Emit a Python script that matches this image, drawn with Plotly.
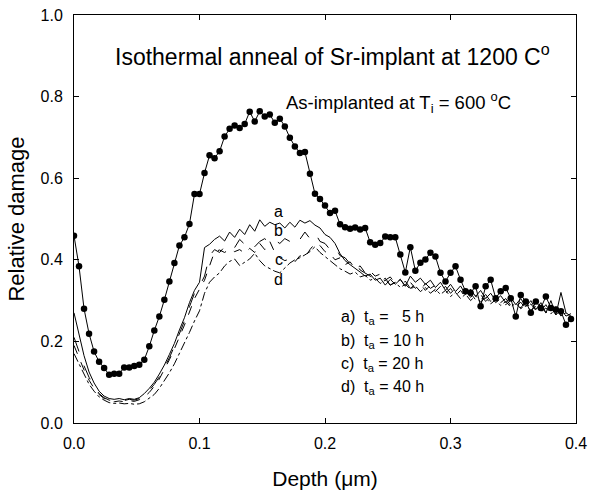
import plotly.graph_objects as go

FONT = "Liberation Sans, Arial, sans-serif"

# As-implanted profile (filled circles), depth step 0.004 um
depth_dots = [round(0.004 * i, 3) for i in range(100)]
damage_as_implanted = [
    0.459, 0.384, 0.280, 0.219, 0.175, 0.150, 0.135, 0.118, 0.121, 0.121,
    0.136, 0.136, 0.140, 0.143, 0.155, 0.188, 0.227, 0.261, 0.302, 0.347,
    0.392, 0.435, 0.455, 0.488, 0.561, 0.561, 0.613, 0.656, 0.649, 0.666,
    0.702, 0.721, 0.729, 0.723, 0.733, 0.763, 0.739, 0.764, 0.751, 0.756,
    0.736, 0.746, 0.727, 0.699, 0.678, 0.662, 0.664, 0.611, 0.562, 0.549,
    0.533, 0.515, 0.520, 0.487, 0.480, 0.476, 0.479, 0.474, 0.478, 0.443,
    0.437, 0.441, 0.457, 0.455, 0.455, 0.413, 0.369, 0.431, 0.373, 0.393,
    0.401, 0.417, 0.408, 0.368, 0.347, 0.368, 0.384, 0.351, 0.323, 0.319,
    0.335, 0.286, 0.335, 0.351, 0.306, 0.323, 0.331, 0.306, 0.261, 0.314,
    0.298, 0.270, 0.298, 0.282, 0.310, 0.282, 0.278, 0.274, 0.241, 0.255,
]

depth_lines = [round(0.004 * i, 3) for i in range(100)]
damage_a = [
    0.270, 0.215, 0.165, 0.125, 0.098, 0.078, 0.066, 0.060, 0.058, 0.060,
    0.057, 0.060, 0.058, 0.062, 0.072, 0.085, 0.100, 0.120, 0.142, 0.168,
    0.195, 0.228, 0.258, 0.295, 0.325, 0.345, 0.430, 0.438, 0.450, 0.458,
    0.446, 0.468, 0.455, 0.475, 0.462, 0.486, 0.470, 0.498, 0.482, 0.492,
    0.486, 0.490, 0.478, 0.492, 0.480, 0.497, 0.490, 0.496, 0.485, 0.478,
    0.462, 0.455, 0.440, 0.415, 0.398, 0.388, 0.380, 0.370, 0.360, 0.365,
    0.350, 0.355, 0.338, 0.352, 0.340, 0.352, 0.335, 0.360, 0.345, 0.355,
    0.340, 0.350, 0.332, 0.345, 0.325, 0.340, 0.322, 0.336, 0.315, 0.328,
    0.310, 0.325, 0.305, 0.318, 0.300, 0.312, 0.295, 0.308, 0.290, 0.305,
    0.285, 0.300, 0.278, 0.295, 0.270, 0.300, 0.265, 0.320, 0.270, 0.262,
]
damage_b = [
    0.210, 0.175, 0.140, 0.112, 0.090, 0.072, 0.062, 0.056, 0.054, 0.056,
    0.055, 0.058, 0.056, 0.060, 0.068, 0.080, 0.095, 0.113, 0.135, 0.160,
    0.188, 0.218, 0.250, 0.285, 0.318, 0.335, 0.360, 0.410, 0.425, 0.418,
    0.432, 0.440, 0.430, 0.450, 0.438, 0.446, 0.432, 0.445, 0.452, 0.440,
    0.448, 0.440, 0.452, 0.445, 0.460, 0.450, 0.468, 0.452, 0.466, 0.445,
    0.440, 0.425, 0.432, 0.410, 0.405, 0.390, 0.395, 0.375, 0.368, 0.360,
    0.352, 0.345, 0.355, 0.338, 0.345, 0.332, 0.348, 0.330, 0.340, 0.325,
    0.342, 0.330, 0.338, 0.322, 0.335, 0.318, 0.330, 0.312, 0.325, 0.308,
    0.320, 0.302, 0.315, 0.298, 0.312, 0.295, 0.305, 0.288, 0.300, 0.282,
    0.298, 0.280, 0.292, 0.275, 0.290, 0.268, 0.285, 0.262, 0.278, 0.255,
]
damage_c = [
    0.190, 0.160, 0.130, 0.105, 0.085, 0.070, 0.060, 0.055, 0.052, 0.054,
    0.052, 0.055, 0.053, 0.057, 0.064, 0.075, 0.090, 0.108, 0.130, 0.155,
    0.182, 0.210, 0.240, 0.272, 0.305, 0.328, 0.350, 0.385, 0.420, 0.424,
    0.418, 0.426, 0.420, 0.425, 0.416, 0.428, 0.418, 0.440, 0.425, 0.445,
    0.418, 0.405, 0.398, 0.402, 0.395, 0.410, 0.405, 0.425, 0.440, 0.435,
    0.420, 0.415, 0.400, 0.405, 0.388, 0.395, 0.378, 0.385, 0.368, 0.372,
    0.360, 0.365, 0.350, 0.358, 0.342, 0.352, 0.335, 0.345, 0.330, 0.340,
    0.325, 0.338, 0.322, 0.335, 0.318, 0.330, 0.312, 0.325, 0.308, 0.318,
    0.302, 0.315, 0.298, 0.310, 0.295, 0.305, 0.290, 0.300, 0.285, 0.296,
    0.280, 0.292, 0.276, 0.288, 0.270, 0.282, 0.265, 0.278, 0.262, 0.268,
]
damage_d = [
    0.170, 0.145, 0.118, 0.095, 0.078, 0.064, 0.056, 0.050, 0.048, 0.049,
    0.047, 0.048, 0.046, 0.047, 0.052, 0.060, 0.070, 0.085, 0.103, 0.123,
    0.145, 0.170, 0.195, 0.222, 0.250, 0.275, 0.318, 0.345, 0.358, 0.368,
    0.385, 0.396, 0.402, 0.386, 0.394, 0.402, 0.416, 0.398, 0.385, 0.378,
    0.372, 0.368, 0.380, 0.392, 0.400, 0.405, 0.412, 0.420, 0.432, 0.418,
    0.408, 0.398, 0.388, 0.378, 0.372, 0.365, 0.370, 0.358, 0.362, 0.350,
    0.355, 0.342, 0.350, 0.338, 0.345, 0.332, 0.340, 0.328, 0.336, 0.322,
    0.332, 0.318, 0.328, 0.315, 0.325, 0.310, 0.320, 0.305, 0.316, 0.300,
    0.312, 0.296, 0.308, 0.292, 0.302, 0.288, 0.298, 0.284, 0.294, 0.280,
    0.290, 0.276, 0.286, 0.272, 0.282, 0.268, 0.278, 0.264, 0.270, 0.258,
]

x_ticks = [0.0, 0.1, 0.2, 0.3, 0.4]
y_ticks = [0.0, 0.2, 0.4, 0.6, 0.8, 1.0]

curve_labels = ["a", "b", "c", "d"]
curve_label_y = [0.519, 0.472, 0.400, 0.351]
legend_texts = [
    "a)  t<sub>a</sub> = \u00a0\u00a05 h",
    "b)  t<sub>a</sub> = 10 h",
    "c)  t<sub>a</sub> = 20 h",
    "d)  t<sub>a</sub> = 40 h",
]
legend_y = [0.258, 0.200, 0.143, 0.087]

fig = go.Figure()
for ys, dash in [(damage_a, "solid"), (damage_b, "longdash"),
                 (damage_c, "dash"), (damage_d, "dashdot")]:
    fig.add_trace(go.Scatter(x=depth_lines, y=ys, mode="lines",
                             line=dict(color="black", width=1, dash=dash),
                             showlegend=False))
fig.add_trace(go.Scatter(x=depth_dots, y=damage_as_implanted, mode="lines+markers",
                         line=dict(color="black", width=1),
                         marker=dict(color="black", size=6.5),
                         showlegend=False))

ann = []
ann.append(dict(x=0.2056, y=0.903, xref="x", yref="y", showarrow=False,
                text="Isothermal anneal of Sr-implant at 1200 C<sup>o</sup>",
                font=dict(size=23, family=FONT, color="black"), xanchor="center", yanchor="middle"))
ann.append(dict(x=0.167, y=0.785, xref="x", yref="y", showarrow=False,
                text="As-implanted at T<sub>i</sub> = 600 <sup>o</sup>C",
                font=dict(size=18.5, family=FONT, color="black"), xanchor="left", yanchor="middle"))
for lab, yy in zip(curve_labels, curve_label_y):
    ann.append(dict(x=0.163, y=yy, xref="x", yref="y", showarrow=False, text=lab,
                    font=dict(size=16, family=FONT, color="black"), xanchor="center", yanchor="middle"))
for t, yy in zip(legend_texts, legend_y):
    ann.append(dict(x=0.211, y=yy, xref="x", yref="y", showarrow=False, text=t,
                    font=dict(size=16, family=FONT, color="black"), xanchor="left", yanchor="middle"))

axis_common = dict(showline=True, linecolor="black", linewidth=1, mirror="ticks",
                   ticks="inside", ticklen=5, tickcolor="black", showgrid=False,
                   zeroline=False, automargin=False,
                   tickfont=dict(size=16, family=FONT, color="black"))

fig.update_layout(
    width=589, height=498,
    margin=dict(l=74, r=13, t=15, b=75),
    paper_bgcolor="white", plot_bgcolor="white",
    annotations=ann,
    xaxis=dict(range=[0, 0.4], tickvals=x_ticks, ticktext=[f"{v:.1f}" for v in x_ticks],
               title=dict(text="Depth (\u03bcm)", font=dict(size=21, family=FONT, color="black"), standoff=20),
               ticklabelstandoff=6, **axis_common),
    yaxis=dict(range=[0, 1.0], tickvals=y_ticks, ticktext=[f"{v:.1f}" for v in y_ticks],
               title=dict(text="Relative damage", font=dict(size=22, family=FONT, color="black"), standoff=9),
               ticklabelstandoff=7, **axis_common),
)
fig.write_html("out.html")
